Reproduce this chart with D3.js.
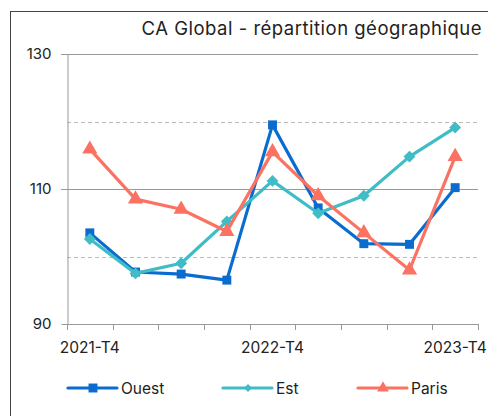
<!DOCTYPE html>
<html>
<head>
<meta charset="utf-8">
<style>
  body { margin: 0; background: #fff; }
  svg { display: block; font-family: Inter, "Noto Sans", sans-serif; }
</style>
</head>
<body>
<svg class="chart"></svg>

<script src="https://d3js.org/d3.v7.min.js"></script>
<script>
// quarters 2021-T4 .. 2023-T4
const categories = ["2021-T4", "2022-T1", "2022-T2", "2022-T3", "2022-T4",
                    "2023-T1", "2023-T2", "2023-T3", "2023-T4"];
const ouest = [103.5, 97.7, 97.4, 96.5, 119.5, 107.2, 101.9, 101.8, 110.2];
const est   = [102.6, 97.5, 99.0, 105.2, 111.2, 106.4, 109.0, 114.8, 119.1];
const paris = [115.9, 108.5, 107.0, 103.7, 115.5, 109.0, 103.5, 98.0, 114.8];
const yTicks = [90, 110, 130];
const yDashed = [100, 120];
const xLabels = ["2021-T4", "2022-T4", "2023-T4"];

const series = [
  {name: "Ouest", values: ouest, color: "#0a6ccf", marker: "square"},
  {name: "Est",   values: est,   color: "#40bcc6", marker: "diamond"},
  {name: "Paris", values: paris, color: "#fb7263", marker: "triangle"}
];

width = 488
height = 416
margin = ({top: 54, right: 10, bottom: 92, left: 67})

const svg = d3.select("svg")
    .attr("width", width)
    .attr("height", height)
    .attr("viewBox", [0, 0, width, height]);

// outer frame (right/bottom edges run off the picture)
svg.append("rect")
    .attr("x", 10.5).attr("y", 11.5)
    .attr("width", 500).attr("height", 420)
    .attr("fill", "none")
    .attr("stroke", "#444")
    .attr("stroke-width", 1);

svg.append("text")
    .attr("x", 482).attr("y", 35)
    .attr("text-anchor", "end")
    .attr("font-size", 18.5)
    .attr("letter-spacing", 0.5)
    .attr("fill", "#222")
    .text("CA Global - répartition géographique");

x = d3.scaleBand()
    .domain(categories)
    .range([margin.left, width - margin.right]);

y = d3.scaleLinear()
    .domain([90, 130])
    .range([height - margin.bottom, margin.top]);

// gridlines
svg.append("g")
    .selectAll("line")
    .data(yTicks.slice(1))
    .join("line")
      .attr("x1", margin.left - 6).attr("x2", width - margin.right)
      .attr("y1", d => Math.round(y(d)) + 0.5).attr("y2", d => Math.round(y(d)) + 0.5)
      .attr("stroke", "#999");

svg.append("g")
    .selectAll("line")
    .data(yDashed)
    .join("line")
      .attr("x1", margin.left).attr("x2", width - margin.right)
      .attr("y1", d => Math.round(y(d)) + 0.5).attr("y2", d => Math.round(y(d)) + 0.5)
      .attr("stroke", "#bbb")
      .attr("stroke-dasharray", "4,3");

// y axis
yAxis = g => g
    .attr("transform", `translate(${margin.left + 0.5},0)`)
    .call(d3.axisLeft(y).tickValues(yTicks).tickSize(6).tickSizeOuter(0))
    .call(g => g.select(".domain").attr("stroke", "#999"))
    .call(g => g.selectAll(".tick line").attr("stroke", "#999"))
    .call(g => g.selectAll(".tick text")
        .attr("x", -16).attr("font-size", 15).attr("fill", "#222")
        .attr("font-family", "Inter, 'Noto Sans', sans-serif"));

svg.append("g").call(yAxis);

// x axis: ticks between categories, labels every 4th quarter
const bounds = categories.map(c => x(c)).concat([x.range()[1]]);
const xg = svg.append("g");
xg.append("line")
    .attr("x1", margin.left).attr("x2", width - margin.right)
    .attr("y1", Math.round(y(90)) + 0.5).attr("y2", Math.round(y(90)) + 0.5)
    .attr("stroke", "#999");
xg.selectAll("line.tk")
    .data(bounds)
    .join("line")
      .attr("class", "tk")
      .attr("x1", d => Math.round(d) + 0.5).attr("x2", d => Math.round(d) + 0.5)
      .attr("y1", y(90)).attr("y2", y(90) + 6)
      .attr("stroke", "#999");
xg.selectAll("text")
    .data(xLabels)
    .join("text")
      .attr("x", d => x(d) + x.bandwidth() / 2)
      .attr("y", y(90) + 29)
      .attr("text-anchor", "middle")
      .attr("font-size", 15.5)
      .attr("fill", "#222")
      .text(d => d);

// marker shapes
const symbolFor = {
  square: d3.symbol(d3.symbolSquare, 80),
  diamond: d3.symbol(d3.symbolDiamond2, 90),
  triangle: d3.symbol(d3.symbolTriangle, 100)
};

const line = d3.line()
    .x((d, i) => x(categories[i]) + x.bandwidth() / 2)
    .y(d => y(d));

series.forEach(s => {
  const g = svg.append("g");
  g.append("path")
      .attr("d", line(s.values))
      .attr("fill", "none")
      .attr("stroke", s.color)
      .attr("stroke-width", 3.2)
      .attr("stroke-linejoin", "round");
  g.selectAll("path.m")
    .data(s.values)
    .join("path")
      .attr("class", "m")
      .attr("transform", (d, i) => `translate(${x(categories[i]) + x.bandwidth() / 2},${y(d)})`)
      .attr("d", symbolFor[s.marker]())
      .attr("fill", s.color);
});

// legend
const legendX = [68, 223, 358];
const legendSym = {square: [d3.symbolSquare, 80], diamond: [d3.symbolDiamond2, 40], triangle: [d3.symbolTriangle, 60]};
const lg = svg.append("g").attr("transform", "translate(0,388)");
series.forEach((s, i) => {
  const gx = lg.append("g").attr("transform", `translate(${legendX[i]},0)`);
  gx.append("line")
      .attr("x1", 0).attr("x2", 49)
      .attr("stroke", s.color)
      .attr("stroke-width", 3.2)
      .attr("stroke-linecap", "round");
  gx.append("path")
      .attr("transform", "translate(25,0)")
      .attr("d", d3.symbol(legendSym[s.marker][0], legendSym[s.marker][1])())
      .attr("fill", s.color);
  gx.append("text")
      .attr("x", 53).attr("y", 5.5)
      .attr("font-size", 15.5)
      .attr("fill", "#222")
      .text(s.name);
});
</script>
</body>
</html>
